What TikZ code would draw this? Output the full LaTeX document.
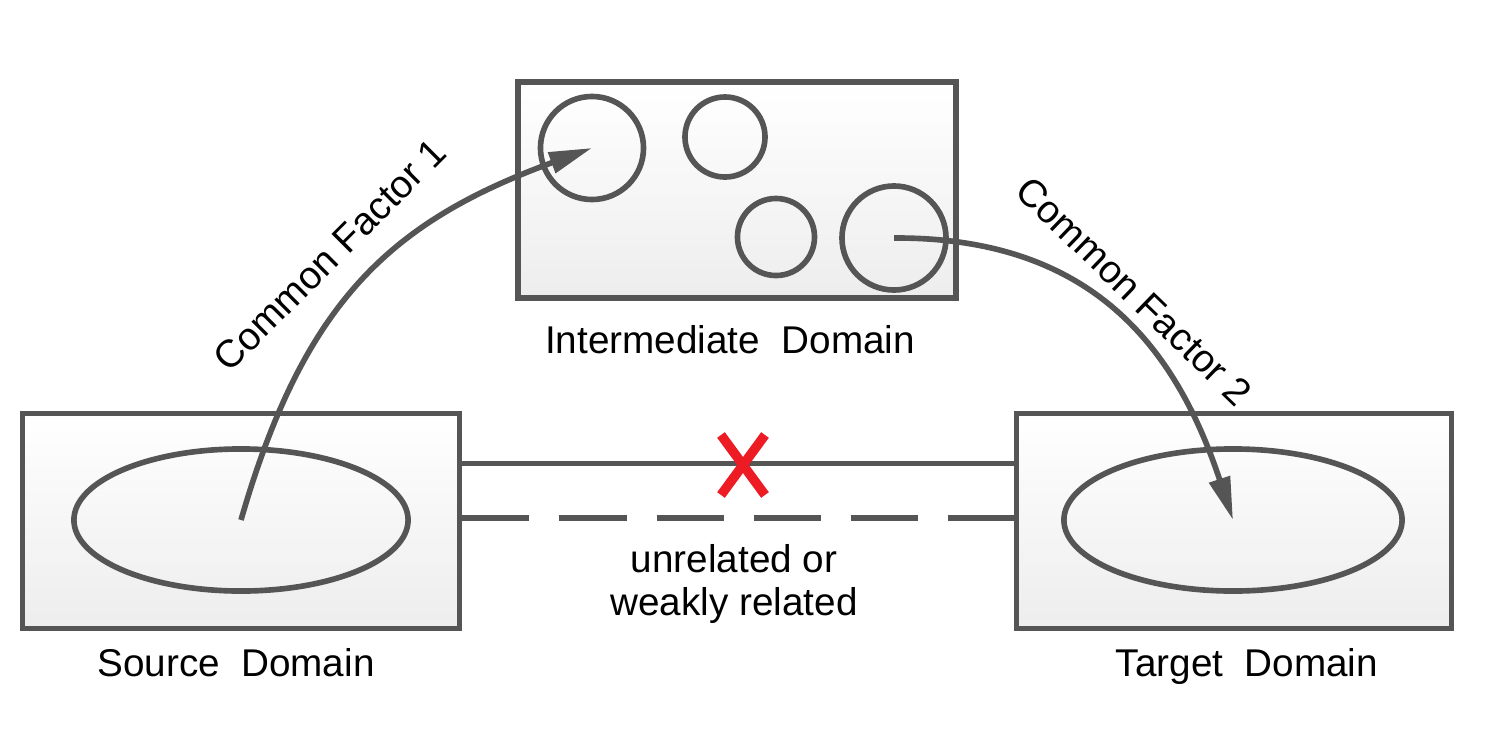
\documentclass[tikz,border=0pt]{standalone}
\usepackage{fontspec}
\setmainfont{Liberation Sans}
\usetikzlibrary{arrows.meta,calc,shapes.geometric}
\definecolor{cLine}{RGB}{85,85,85}
\definecolor{cCross}{RGB}{237,28,36}
\tikzset{
  domainbox/.style={draw=cLine, line width=1.6pt, rectangle, minimum width=4.37cm,
    minimum height=2.15cm, top color=white, bottom color=black!7, inner sep=0pt},
  blob/.style={draw=cLine, line width=1.6pt, circle, inner sep=0pt},
  region/.style={draw=cLine, line width=1.6pt, ellipse, minimum width=3.34cm,
    minimum height=1.42cm, inner sep=0pt},
  factor/.style={draw=cLine, line width=1.6pt, -{Triangle[length=0.43cm,width=0.21cm]}},
  link/.style={draw=cLine, line width=1.6pt},
  dlabel/.style={font=\fontsize{11}{12.3}\selectfont, inner sep=0pt},
}

\begin{document}
\begin{tikzpicture}[x=0.01cm, y=-0.01cm]
  \useasboundingbox (0,0) rectangle (1496,739);
  % Domains
  \node[domainbox] (src) at (241,521) {};
  \node[domainbox, minimum width=4.38cm, minimum height=2.16cm] (mid) at (737,190) {};
  \node[domainbox, minimum width=4.35cm] (tgt) at (1234,521) {};
  % Contents
  \node[region] (srcset) at (241,520) {};
  \node[region, minimum width=3.38cm] (tgtset) at (1233,520) {};
  \node[blob, minimum size=1.03cm] (ca) at (592,148) {};
  \node[blob, minimum size=0.8cm] (cb) at (725,137) {};
  \node[blob, minimum size=0.77cm] (cc) at (776,237) {};
  \node[blob, minimum size=1.04cm] (cd) at (894,238) {};
  % Labels
  \node[dlabel, anchor=base] (midlbl) at (730,353) {Intermediate~~Domain};
  \node[dlabel, anchor=base] (srclbl) at (236,676) {Source~~Domain};
  \node[dlabel, anchor=base] (tgtlbl) at (1247,676) {Target~~Domain};
  \node[dlabel, align=center] (weak) at (734,584) {unrelated or\\weakly related};
  % Direct links
  \draw[link] ($(src.north east)!0.24!(src.south east)$) -- ($(tgt.north west)!0.24!(tgt.south west)$);
  \draw[link, dash pattern=on 0.67cm off 0.3cm] ($(src.north east)!0.487!(src.south east)$)
    -- ($(tgt.north west)!0.487!(tgt.south west)$);
  \coordinate (cross) at (743,465);
  \draw[cCross, line width=2.7pt] ($(cross)+(-22,-30)$) -- ($(cross)+(22,30)$);
  \draw[cCross, line width=2.7pt] ($(cross)+(22,-30)$) -- ($(cross)+(-22,30)$);
  % Common factors
  \draw[factor] (srcset.center) .. controls (304,302) and (390,222) .. (ca.center);
  \draw[factor] (cd.center) .. controls (1090,237) and (1175,345) .. (tgtset.center);
  \node[dlabel, rotate=45] (cf1) at (330,255) {Common Factor 1};
  \node[dlabel, rotate=-44] (cf2) at (1134,291) {Common Factor 2};
\end{tikzpicture}
\end{document}
